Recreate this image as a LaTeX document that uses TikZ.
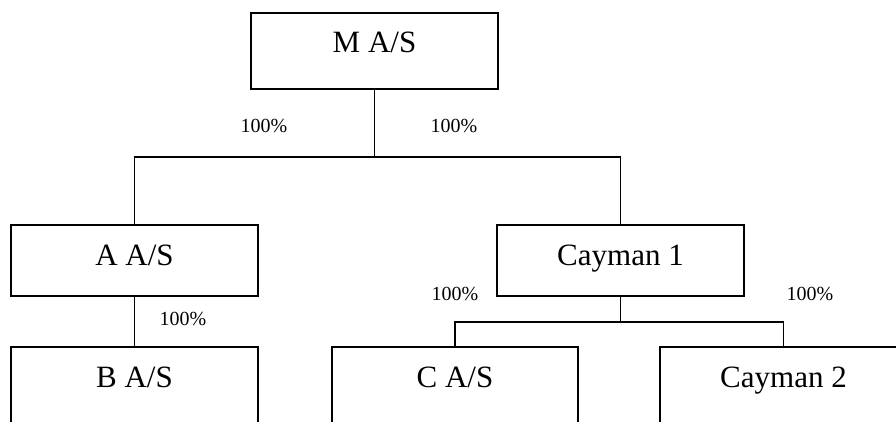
\documentclass[tikz,border=0pt]{standalone}
\usepackage{fontspec}
\setmainfont{Liberation Serif}
\begin{document}
\begin{tikzpicture}[x=1pt,y=-1pt,
  company/.style={draw=black, line width=1.6pt, rectangle, inner sep=0pt,
    minimum width=247pt, font=\fontsize{31}{36}\selectfont},
  share/.style={anchor=base, inner sep=0pt, font=\fontsize{20}{24}\selectfont},
  link/.style={draw=black, line width=1.6pt}]
  \useasboundingbox (0,0) rectangle (896,422);
  \clip (0,0) rectangle (896,422);

  % parent company
  \node[company, minimum height=76pt, text height=20pt, text depth=16pt] (m) at (374.5,51) {M A/S};

  % first tier
  \node[company, minimum height=71pt, text height=20pt, text depth=11pt] (a) at (134.5,260.5) {A A/S};
  \node[company, minimum height=71pt, text height=20pt, text depth=11pt] (c1) at (620.5,260.5) {Cayman 1};

  % second tier (runs past the lower and right edges)
  \node[company, minimum height=100pt, text height=10pt, text depth=30pt] (b) at (134.5,397) {B A/S};
  \node[company, minimum width=246pt, minimum height=100pt, text height=10pt, text depth=30pt] (c) at (455,397) {C A/S};
  \node[company, minimum height=100pt, text height=10pt, text depth=30pt] (c2) at (783.5,397) {Cayman 2};

  % ownership lines
  \coordinate (j1) at (374.5,157);
  \coordinate (j2) at (620.5,322);
  \draw[link] (m.south) -- (j1);
  \draw[link] (a.north) |- (j1);
  \draw[link] (c1.north) |- (j1);
  \draw[link] (a.south) -- (b.north);
  \draw[link] (c1.south) -- (j2);
  \draw[link] (c.north) |- (j2);
  \draw[link] (c2.north) |- (j2);

  % ownership percentages
  \node[share] (pma) at (264,133) {100\%};
  \node[share] (pmc) at (454,133) {100\%};
  \node[share] (pab) at (183,325) {100\%};
  \node[share] (pcc) at (455,300) {100\%};
  \node[share] (pcc2) at (810,300) {100\%};
\end{tikzpicture}
\end{document}
